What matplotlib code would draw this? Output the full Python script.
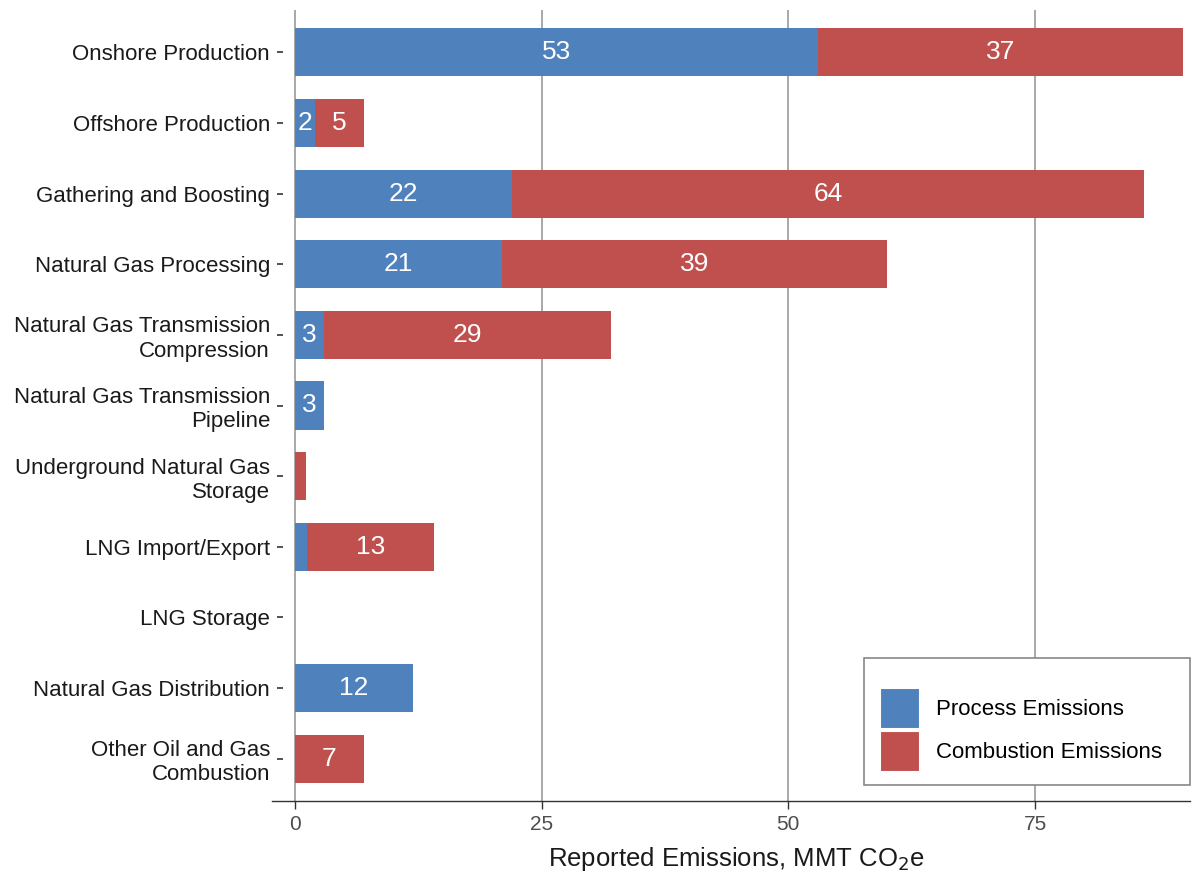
import matplotlib
matplotlib.use("Agg")
import matplotlib.pyplot as plt
import numpy as np
from matplotlib.patches import Patch, Rectangle
from matplotlib.lines import Line2D

plt.rcParams['font.family'] = ['Liberation Sans', 'DejaVu Sans']

categories = [
    "Onshore Production",
    "Offshore Production",
    "Gathering and Boosting",
    "Natural Gas Processing",
    "Natural Gas Transmission\nCompression",
    "Natural Gas Transmission\nPipeline",
    "Underground Natural Gas\nStorage",
    "LNG Import/Export",
    "LNG Storage",
    "Natural Gas Distribution",
    "Other Oil and Gas\nCombustion",
]
process = [53, 2, 22, 21, 3, 3, 0, 1.2, 0, 12, 0]
combustion = [37, 5, 64, 39, 29, 0, 1.1, 12.9, 0, 0, 7]
xticks = [0, 25, 50, 75]
series_names = ["Process Emissions", "Combustion Emissions"]
colors = ["#4f81bd", "#c0504d"]

W, H = 1198, 873
fig = plt.figure(figsize=(W / 100, H / 100), dpi=100)
ax = fig.add_axes([283 / W, 1 - 801 / H, (1190 - 283) / W, (801 - 10) / H])

y = np.arange(len(categories))
proc = np.array(process)
comb = np.array(combustion)
bh = 0.68

for xv in xticks:
    ax.axvline(xv, color="#a8a8a8", lw=1.4, zorder=0)

ax.barh(y, proc, height=bh, color=colors[0], zorder=2)
ax.barh(y, comb, left=proc, height=bh, color=colors[1], zorder=2)

for i in range(len(categories)):
    if proc[i] >= 1.5:
        ax.text(proc[i] / 2, y[i], f"{proc[i]:.0f}", ha="center", va="center",
                color="white", fontsize=19, zorder=3)
    if comb[i] >= 1.5:
        ax.text(proc[i] + comb[i] / 2, y[i], f"{comb[i]:.0f}", ha="center", va="center",
                color="white", fontsize=19, zorder=3)

ax.set_xlim(-1.2, 90.7)
ax.set_ylim(len(categories) - 1 + 0.6, -0.6)
ax.set_yticks(y)
ax.set_yticklabels(categories, fontsize=16, color="#1a1a1a", linespacing=1.2)
ax.set_xticks(xticks)
ax.set_xticklabels([str(v) for v in xticks], fontsize=15, color="#4d4d4d")
ax.tick_params(axis="y", length=4, width=1.2, color="#333333", pad=5.3)
ax.tick_params(axis="x", length=6, width=1.0, color="#333333", pad=4)

for s in ax.spines.values():
    s.set_visible(False)
# bottom axis line extended slightly to the left
ax.add_line(Line2D([-0.012, 1.0], [0, 0], transform=ax.transAxes, color="#333333",
                   lw=1.0, clip_on=False, zorder=4))

ax.set_xlabel("Reported Emissions, MMT CO$_2$e", fontsize=18.5, color="#1a1a1a", labelpad=8)

# legend frame drawn in figure pixels
ax.add_patch(Rectangle((864 / W, 1 - 785 / H), (1190 - 864) / W, (785 - 658) / H,
                       transform=fig.transFigure, facecolor="white", clip_on=False,
                       edgecolor="#888888", lw=1.2, zorder=5))
handles = [Patch(facecolor=c, edgecolor="white", lw=0.8) for c in colors]
leg = ax.legend(handles, series_names, loc="upper left",
                bbox_to_anchor=(880 / W, 1 - 688 / H), bbox_transform=fig.transFigure,
                fontsize=16, frameon=False,
                handlelength=1.76, handleheight=2.39, labelspacing=0.15,
                handletextpad=0.77, borderpad=0, borderaxespad=0)
leg.set_zorder(6)

fig.savefig("out.png", dpi=100)
